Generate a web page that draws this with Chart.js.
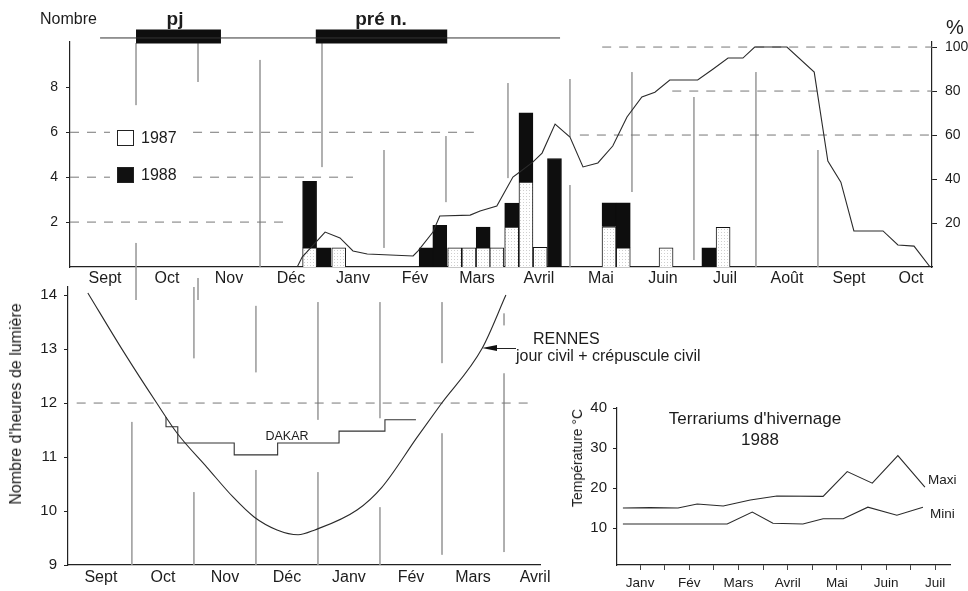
<!DOCTYPE html>
<html>
<head>
<meta charset="utf-8">
<script src="https://cdn.jsdelivr.net/npm/chart.js@4.4.1/dist/chart.umd.min.js"></script>
<style>
body { margin: 0; width: 968px; height: 591px; overflow: hidden; position: relative; background: #fff;
       font-family: "Liberation Sans", Arial, sans-serif; color: #1c1c1c; }
.box { position: absolute; }
.t { position: absolute; line-height: 1; white-space: nowrap; transform: translateY(-50%); z-index: 5; }
.c { transform: translate(-50%, -50%); }
.sq { position: absolute; width: 15px; height: 14px; border: 1px solid #222; z-index: 5; }
</style>
</head>
<body>
<div class="box" style="left:0;top:0;width:968px;height:300px"><canvas id="cTop"></canvas></div>
<div class="box" style="left:0;top:280px;width:560px;height:311px"><canvas id="cDay"></canvas></div>
<div class="box" style="left:560px;top:390px;width:408px;height:201px"><canvas id="cTemp"></canvas></div>

<div class="t" style="left:40px;top:19px;font-size:16px">Nombre</div>
<div class="t c" style="left:175px;top:18px;font-size:19px;font-weight:bold">pj</div>
<div class="t c" style="left:381px;top:18px;font-size:19px;font-weight:bold">pré n.</div>
<div class="t" style="left:946px;top:27px;font-size:20px">%</div>
<div class="sq" style="left:117px;top:130px;background:#fff"></div>
<div class="t" style="left:141px;top:138px;font-size:16px">1987</div>
<div class="sq" style="left:117px;top:167px;background:#111"></div>
<div class="t" style="left:141px;top:175px;font-size:16px">1988</div>

<div class="t c" style="left:16px;top:404px;font-size:16px;transform:translate(-50%,-50%) rotate(-90deg)">Nombre d'heures de lumière</div>
<div class="t c" style="left:287px;top:436px;font-size:12.5px">DAKAR</div>
<div class="t" style="left:533px;top:339px;font-size:16px">RENNES</div>
<div class="t" style="left:516px;top:356px;font-size:16px">jour civil + crépuscule civil</div>
<div style="position:absolute;left:495px;top:348px;width:21px;height:0;border-top:1px solid #222;z-index:5"></div>
<div style="position:absolute;left:482px;top:345px;width:0;height:0;border-top:3.5px solid transparent;border-bottom:3.5px solid transparent;border-right:15px solid #111;z-index:5"></div>

<div class="t c" style="left:755px;top:418px;font-size:17px">Terrariums d'hivernage</div>
<div class="t c" style="left:760px;top:439px;font-size:17px">1988</div>
<div class="t c" style="left:577px;top:458px;font-size:14px;transform:translate(-50%,-50%) rotate(-90deg)">Température °C</div>
<div class="t" style="left:928px;top:480px;font-size:13.5px">Maxi</div>
<div class="t" style="left:930px;top:514px;font-size:13.5px">Mini</div>

<script>
// --- top panel: captures per week (Nombre) and % line, Sept 1987 -> Oct 1988
// x is in months, 0 = start of first Sept
var topMonths = ["Sept", "Oct", "Nov", "Déc", "Janv", "Fév", "Mars", "Avril", "Mai", "Juin", "Juil", "Août", "Sept", "Oct"];
var barX = [3.80, 4.03, 4.27, 5.68, 5.90, 6.14, 6.37, 6.60, 6.82, 7.06, 7.29, 7.52, 7.75, 8.63, 8.86, 9.55, 10.24, 10.47];
var n1987 = [0.85, null, 0.85, null, null, 0.85, 0.85, 0.85, 0.85, 1.78, 3.78, 0.88, null, 1.79, 0.85, 0.85, null, 1.77];
var n1988 = [2.97, 0.85, null, 0.85, 1.86, null, null, 0.93, null, 1.07, 3.09, null, 4.83, 1.07, 2.01, null, 0.85, null];
var pctX = [3.60, 3.68, 4.05, 4.29, 4.50, 4.73, 5.47, 5.55, 5.79, 5.90, 6.39, 6.55, 6.82, 7.08, 7.19, 7.40, 7.55, 7.76, 8.00, 8.21,
            8.45, 8.69, 8.92, 9.16, 9.37, 9.61, 10.06, 10.31, 10.55, 10.79, 10.98, 11.50, 11.94, 12.16, 12.37, 12.58, 13.05, 13.29, 13.55, 13.81];
var pctY = [0, 4.5, 15.9, 13.2, 7.3, 5.9, 5.0, 7.3, 15.9, 23.2, 23.6, 25.5, 27.7, 40.9, 43.2, 47.7, 51.8, 65.0, 59.1, 45.5,
            47.3, 55.0, 68.2, 77.3, 79.5, 85.0, 85.0, 90.0, 95.0, 95.0, 100, 100, 88.6, 48.2, 38.6, 16.4, 16.4, 10.0, 9.5, 0];
var periodFrom = [1.0, 3.90];   // pj, pré n.
var periodTo = [2.37, 6.02];

// --- bottom left: hours of light
var dayMonths = ["Sept", "Oct", "Nov", "Déc", "Janv", "Fév", "Mars", "Avril"];
var rennesX = [0.29, 0.85, 1.40, 1.73, 2.21, 2.63, 2.97, 3.34, 3.68, 3.95, 4.63, 5.03, 5.60, 5.97, 6.65, 7.03];
var rennesH = [14.04, 12.98, 12.0, 11.44, 10.81, 10.26, 9.89, 9.65, 9.56, 9.65, 10.02, 10.44, 11.37, 11.96, 13.02, 14.0];
var dakarX = [1.55, 1.74, 2.65, 3.35, 4.34, 5.08, 5.58];
var dakarH = [11.74, 11.56, 11.26, 11.04, 11.26, 11.48, 11.69];

// --- bottom right: terrarium temperatures 1988
var tempMonths = ["Janv", "Fév", "Mars", "Avril", "Mai", "Juin", "Juil"];
var maxiX = [-0.35, 0.20, 0.77, 1.16, 1.69, 2.24, 2.78, 3.72, 4.21, 4.72, 5.24, 5.79];
var maxiT = [15.0, 15.1, 15.0, 16.0, 15.5, 17.0, 18.0, 17.9, 24.1, 21.2, 28.1, 20.2];
var miniX = [-0.35, 1.77, 2.28, 2.70, 3.31, 3.72, 4.13, 4.63, 5.22, 5.75];
var miniT = [11.0, 11.0, 14.0, 11.2, 11.0, 12.3, 12.3, 15.2, 13.2, 15.2];

Chart.defaults.font.family = "'Liberation Sans', Arial, sans-serif";
Chart.defaults.color = "#1c1c1c";
Chart.defaults.animation = false;

function pts(xs, ys) {
    return xs.map(function (x, i) { return {x: x, y: ys[i]}; });
}
// vertical pieces [x, yTop, yBottom] -> one broken line
function vsegs(list) {
    var out = [];
    list.forEach(function (s) { out.push({x: s[0], y: s[1]}, {x: s[0], y: s[2]}, {x: s[0], y: null}); });
    return out;
}
// horizontal pieces [y, x0, x1]
function hsegs(list) {
    var out = [];
    list.forEach(function (s) { out.push({x: s[1], y: s[0]}, {x: s[2], y: s[0]}, {x: s[2], y: null}); });
    return out;
}
function fixW(w) { return function (s) { s.width = w; s.paddingTop = 0; s.paddingBottom = 0; }; }
function fixH(h) { return function (s) { s.height = h; s.paddingLeft = 0; s.paddingRight = 0; }; }
function tickAt(vals) { return function (s) { s.ticks = vals.map(function (v) { return {value: v}; }); }; }
function plainLine(extra) {
    var d = {type: "line", borderColor: "#2a2a2a", borderWidth: 1.1, pointRadius: 0, tension: 0, spanGaps: false};
    for (var k in extra) d[k] = extra[k];
    return d;
}

// stippled white for the 1987 bars
var topCtx = document.getElementById("cTop").getContext("2d");
var dotCanvas = document.createElement("canvas");
dotCanvas.width = 3; dotCanvas.height = 3;
var dg = dotCanvas.getContext("2d");
dg.fillStyle = "#fff"; dg.fillRect(0, 0, 3, 3);
dg.fillStyle = "#cfcfcf"; dg.fillRect(1, 1, 1, 1);
var dots = topCtx.createPattern(dotCanvas, "repeat");

var dash = [9, 8];
var gridGrey = "#9a9a9a";

new Chart(topCtx, {
    type: "bar",
    data: {
        datasets: [
            plainLine({data: pts(pctX, pctY), yAxisID: "y2", order: 1}),
            {type: "bar", label: "1987", data: pts(barX, n1987), backgroundColor: dots, borderColor: "#111",
             borderWidth: 1, barThickness: 14, stack: "n", order: 3},
            {type: "bar", label: "1988", data: pts(barX, n1988), backgroundColor: "#0e0e0e", borderColor: "#0e0e0e",
             borderWidth: 1, barThickness: 14, stack: "n", order: 3},
            plainLine({data: hsegs([[2, -0.065, 3.44], [4, -0.065, 0.58], [4, 1.92, 4.5], [6, -0.065, 0.58], [6, 1.92, 6.45]]),
                       borderColor: "#777", borderWidth: 1, borderDash: dash, order: 5}),
            plainLine({data: hsegs([[60, 8.16, 13.84], [80, 9.65, 13.84], [100, 8.52, 13.84]]), yAxisID: "y2",
                       borderColor: "#777", borderWidth: 1, borderDash: dash, order: 5}),
            plainLine({data: vsegs([[1, 9.97, 7.21], [1, 1.07, -1.51], [2, 9.97, 8.24], [2, -0.49, -1.51], [3, 9.22, 0],
                                    [4, 9.97, 4.45], [5, 5.21, 0.85], [6, 5.83, 2.89], [7, 8.19, 3.96], [8, 8.37, 5.79],
                                    [8, 3.65, 0], [9, 8.68, 3.34], [10, 7.57, 0.31], [11, 8.68, 0], [12, 5.21, 0]]),
                       borderColor: gridGrey, borderWidth: 0.8, clip: false, order: 6}),
            // season bars above the panel
            plainLine({data: hsegs([[10.2, 0.42, 7.84]]), borderColor: "#333", borderWidth: 1, clip: false, order: 2}),
            plainLine({data: hsegs([[10.27, periodFrom[0], periodTo[0]], [10.27, periodFrom[1], periodTo[1]]]),
                       borderColor: "#0e0e0e", borderWidth: 14, borderCapStyle: "butt", clip: false, order: 2})
        ]
    },
    options: {
        responsive: true,
        maintainAspectRatio: false,
        layout: {padding: {left: 30, right: 0, top: 42, bottom: 7}},
        plugins: {legend: {display: false}, tooltip: {enabled: false}},
        scales: {
            x: {
                type: "linear", min: -0.065, max: 13.84, offset: false,
                grid: {display: false, drawTicks: false},
                border: {display: true, color: "#222", width: 1.2},
                afterBuildTicks: tickAt(topMonths.map(function (m, i) { return i + 0.5; })),
                ticks: {autoSkip: false, maxRotation: 0, padding: 2, font: {size: 16},
                        callback: function (v, i) { return topMonths[i]; }},
                afterFit: fixH(26)
            },
            y: {
                position: "left", min: 0, max: 10.02,
                afterBuildTicks: tickAt([2, 4, 6, 8]),
                grid: {drawOnChartArea: false, tickLength: 4, color: "#222"},
                border: {color: "#222", width: 1.2},
                ticks: {padding: 8, font: {size: 14}},
                afterFit: fixW(40)
            },
            y2: {
                position: "right", min: 0, max: 102.3,
                afterBuildTicks: tickAt([20, 40, 60, 80, 100]),
                grid: {drawOnChartArea: false, tickLength: 5, color: "#222"},
                border: {color: "#222", width: 1.2},
                ticks: {padding: 8, font: {size: 14}},
                afterFit: fixW(36)
            }
        }
    }
});

new Chart(document.getElementById("cDay"), {
    type: "line",
    data: {
        datasets: [
            plainLine({label: "Rennes", data: pts(rennesX, rennesH), cubicInterpolationMode: "monotone", order: 1}),
            plainLine({label: "Dakar", data: pts(dakarX, dakarH), stepped: "after", borderColor: "#333", order: 1}),
            plainLine({data: hsegs([[12, 0.11, 7.4]]), borderColor: "#777", borderWidth: 1, borderDash: dash, order: 3}),
            plainLine({data: vsegs([[1, 11.65, 9], [2, 14.15, 12.83], [2, 10.35, 9], [3, 13.8, 12.57], [3, 10.76, 9],
                                    [4, 13.87, 11.69], [4, 10.72, 9], [5, 13.87, 11.72], [5, 10.07, 9],
                                    [6, 13.87, 12.74], [6, 11.44, 9.19], [7, 13.66, 13.44], [7, 12.55, 9.24]]),
                       borderColor: gridGrey, borderWidth: 0.8, order: 4})
        ]
    },
    options: {
        responsive: true,
        maintainAspectRatio: false,
        layout: {padding: {left: 0, right: 20, top: 7, bottom: 0}},
        plugins: {legend: {display: false}, tooltip: {enabled: false}},
        scales: {
            x: {
                type: "linear", min: -0.03, max: 7.58,
                grid: {display: false, drawTicks: false},
                border: {display: true, color: "#222", width: 1.2},
                afterBuildTicks: tickAt(dayMonths.map(function (m, i) { return i + 0.5; })),
                ticks: {autoSkip: false, maxRotation: 0, padding: 3, font: {size: 16},
                        callback: function (v, i) { return dayMonths[i]; }},
                afterFit: fixH(26)
            },
            y: {
                min: 9, max: 14.15,
                afterBuildTicks: tickAt([9, 10, 11, 12, 13, 14]),
                grid: {drawOnChartArea: false, tickLength: 4, color: "#222"},
                border: {color: "#222", width: 1.2},
                ticks: {padding: 7, font: {size: 15}},
                afterFit: fixW(68)
            }
        }
    }
});

var tempTicks = [];
for (var k = 0; k <= 12; k++) tempTicks.push(k / 2);

new Chart(document.getElementById("cTemp"), {
    type: "line",
    data: {
        datasets: [
            plainLine({label: "Maxi", data: pts(maxiX, maxiT)}),
            plainLine({label: "Mini", data: pts(miniX, miniT)})
        ]
    },
    options: {
        responsive: true,
        maintainAspectRatio: false,
        layout: {padding: {left: 0, right: 18, top: 18, bottom: 0}},
        plugins: {legend: {display: false}, tooltip: {enabled: false}},
        scales: {
            x: {
                type: "linear", min: -0.47, max: 6.3,
                grid: {display: true, drawOnChartArea: false, tickLength: 5, color: "#444"},
                border: {display: true, color: "#222", width: 1.2},
                afterBuildTicks: tickAt(tempTicks),
                ticks: {autoSkip: false, maxRotation: 0, padding: 5, font: {size: 13.5},
                        callback: function (v) { return v % 1 === 0 ? tempMonths[v] : ""; }},
                afterFit: fixH(26)
            },
            y: {
                min: 0.75, max: 40,
                afterBuildTicks: tickAt([10, 20, 30, 40]),
                grid: {drawOnChartArea: false, tickLength: 4, color: "#222"},
                border: {color: "#222", width: 1.2},
                ticks: {padding: 6, font: {size: 15}},
                afterFit: fixW(57)
            }
        }
    }
});
</script>
</body>
</html>
